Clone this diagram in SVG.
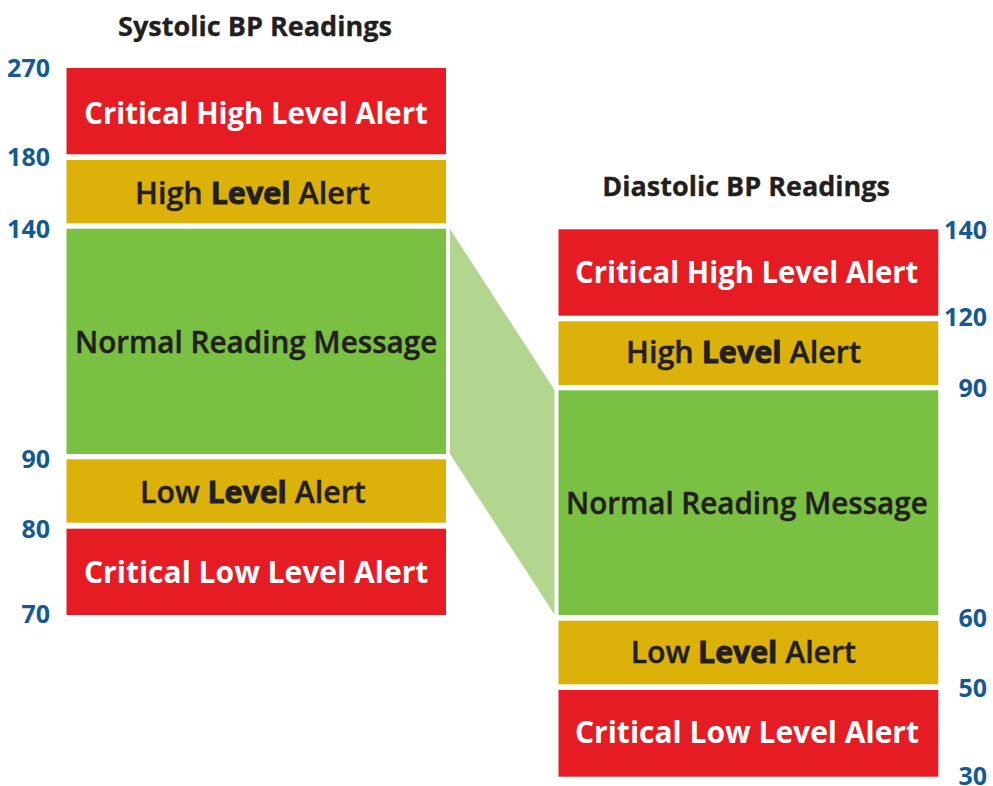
<svg xmlns="http://www.w3.org/2000/svg" width="993" height="786" viewBox="0 0 993 786">
<defs>
<style>
.red{fill:#e61c24}
.yel{fill:#dcb10a}
.grn{fill:#7ac143}
.band{fill:#b2d68f}
.t{font-family:"Open Sans","Noto Sans","Liberation Sans",sans-serif;font-size:30px;font-weight:700}
.w{fill:#ffffff}
.d{fill:#231f20;font-weight:600;stroke:#231f20;stroke-width:0.45}
.b{font-weight:700;stroke-width:0.9}
.title{font-family:"Open Sans","Noto Sans","Liberation Sans",sans-serif;font-size:26px;font-weight:700;fill:#231f20;stroke:#231f20;stroke-width:0.3}
.num{font-family:"Open Sans","Noto Sans","Liberation Sans",sans-serif;font-size:25px;font-weight:700;fill:#135a93;text-anchor:end}
</style>
</defs>
<rect width="993" height="786" fill="#ffffff"/>

<g id="connectors">
<polygon class="band" points="450,229 554.5,390 554.5,614.5 450,454"/>
</g>

<g id="systolic-title"><text class="title" x="118" y="36" textLength="274" lengthAdjust="spacingAndGlyphs">Systolic BP Readings</text></g>
<g id="sys-critical-high"><rect class="red" x="66.5" y="68" width="379.5" height="86.3"/><text class="t w" x="84.3" y="124" textLength="343.4" lengthAdjust="spacingAndGlyphs">Critical High Level Alert</text></g>
<g id="sys-high"><rect class="yel" x="66.5" y="160" width="379.5" height="63.3"/><text class="t d" x="135" y="204" textLength="235" lengthAdjust="spacingAndGlyphs">High <tspan class="b">Level</tspan> Alert</text></g>
<g id="sys-normal"><rect class="grn" x="66.5" y="228.7" width="379.5" height="225.3"/><text class="t d" x="75" y="353.3" textLength="362.3" lengthAdjust="spacingAndGlyphs">Normal Reading Message</text></g>
<g id="sys-low"><rect class="yel" x="66.5" y="459.3" width="379.5" height="63.4"/><text class="t d" x="140" y="503.3" textLength="225.7" lengthAdjust="spacingAndGlyphs">Low <tspan class="b">Level</tspan> Alert</text></g>
<g id="sys-critical-low"><rect class="red" x="66.5" y="528.7" width="379.5" height="86.3"/><text class="t w" x="84" y="583.3" textLength="344.3" lengthAdjust="spacingAndGlyphs">Critical Low Level Alert</text></g>
<g id="sys-scale">
<text class="num" x="50" y="77.3">270</text>
<text class="num" x="50" y="166">180</text>
<text class="num" x="50" y="237.5">140</text>
<text class="num" x="50" y="468.3">90</text>
<text class="num" x="50" y="538.3">80</text>
<text class="num" x="50" y="623.3">70</text>
</g>

<g id="diastolic-title"><text class="title" x="602.3" y="196" textLength="287.7" lengthAdjust="spacingAndGlyphs">Diastolic BP Readings</text></g>
<g id="dia-critical-high"><rect class="red" x="558.5" y="229.3" width="379.8" height="86.4"/><text class="t w" x="575" y="282.7" textLength="343.3" lengthAdjust="spacingAndGlyphs">Critical High Level Alert</text></g>
<g id="dia-high"><rect class="yel" x="558.5" y="321.3" width="379.8" height="63.7"/><text class="t d" x="626" y="363.3" textLength="235" lengthAdjust="spacingAndGlyphs">High <tspan class="b">Level</tspan> Alert</text></g>
<g id="dia-normal"><rect class="grn" x="558.5" y="390.3" width="379.8" height="224.7"/><text class="t d" x="566" y="514.3" textLength="361.7" lengthAdjust="spacingAndGlyphs">Normal Reading Message</text></g>
<g id="dia-low"><rect class="yel" x="558.5" y="620.7" width="379.8" height="63.6"/><text class="t d" x="630.7" y="663.3" textLength="225.3" lengthAdjust="spacingAndGlyphs">Low <tspan class="b">Level</tspan> Alert</text></g>
<g id="dia-critical-low"><rect class="red" x="558.5" y="690" width="379.8" height="86.7"/><text class="t w" x="575" y="743.3" textLength="344" lengthAdjust="spacingAndGlyphs">Critical Low Level Alert</text></g>
<g id="dia-scale">
<text class="num" x="987" y="239">140</text>
<text class="num" x="987" y="325.7">120</text>
<text class="num" x="987" y="396.7">90</text>
<text class="num" x="987" y="626.7">60</text>
<text class="num" x="987" y="696.7">50</text>
<text class="num" x="987" y="785">30</text>
</g>
</svg>
